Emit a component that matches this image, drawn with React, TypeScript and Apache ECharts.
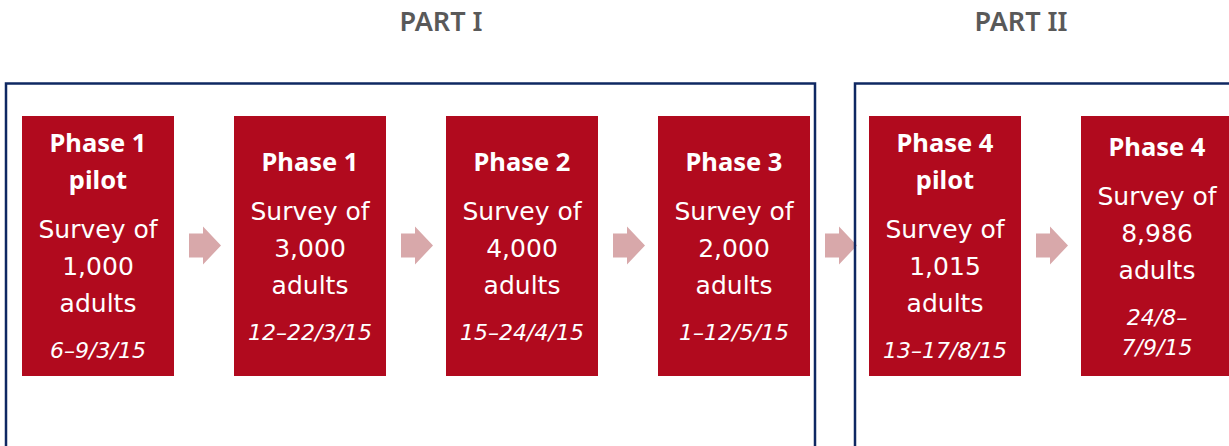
import React, { useEffect, useRef } from "react";
import * as echarts from "echarts";

const partTitles = ["PART I", "PART II"];
const phaseTitles = ["Phase 1\npilot", "Phase 1", "Phase 2", "Phase 3", "Phase 4\npilot", "Phase 4"];
const sampleSizes = ["1,000", "3,000", "4,000", "2,000", "1,015", "8,986"];
const fieldDates = ["6–9/3/15", "12–22/3/15", "15–24/4/15", "1–12/5/15", "13–17/8/15", "24/8–\n7/9/15"];

const RED = "#B10A1E";
const PINK = "#D8A8AA";
const NAVY = "#0F2862";
const GREY = "#595959";

const boxX = [22, 234, 446, 658, 869, 1081];
const BOX_W = 152;
const BOX_TOP = 116;
const BOX_H = 260;
const MID_Y = 245.5;

export default function App() {
  const ref = useRef<HTMLDivElement>(null);
  useEffect(() => {
    if (!ref.current) return;
    const chart = echarts.init(ref.current, undefined, { renderer: "svg" });
    const elements: any[] = [];

    // arrows (behind frames)
    const arrow = (x0: number) => ({
      type: "polygon",
      shape: {
        points: [
          [x0, MID_Y - 12],
          [x0 + 14, MID_Y - 12],
          [x0 + 14, MID_Y - 19],
          [x0 + 32, MID_Y],
          [x0 + 14, MID_Y + 19],
          [x0 + 14, MID_Y + 12],
          [x0, MID_Y + 12],
        ],
      },
      style: { fill: PINK },
      z: 1,
    });
    for (let i = 0; i < phaseTitles.length - 1; i++) {
      elements.push(arrow(boxX[i] + BOX_W + 15));
    }

    // frames
    elements.push({
      type: "rect",
      shape: { x: 6, y: 83.5, width: 809, height: 450 },
      style: { fill: "none", stroke: NAVY, lineWidth: 2.5 },
      z: 2,
    });
    elements.push({
      type: "rect",
      shape: { x: 855, y: 83.5, width: 450, height: 450 },
      style: { fill: "none", stroke: NAVY, lineWidth: 2.5 },
      z: 2,
    });

    // part titles
    const partCenters = [441, 1021];
    partTitles.forEach((t, i) => {
      elements.push({
        type: "text",
        x: partCenters[i],
        y: 20,
        style: {
          text: t,
          fill: GREY,
          font: '600 27px "Noto Sans"',
          align: "center",
          verticalAlign: "middle",
        },
        z: 3,
      });
    });

    // boxes
    phaseTitles.forEach((title, i) => {
      const x = boxX[i];
      elements.push({
        type: "rect",
        shape: { x, y: BOX_TOP, width: BOX_W, height: BOX_H },
        style: { fill: RED },
        z: 3,
      });
      const lines: { text: string; kind: string; gap: number }[] = [];
      title.split("\n").forEach((t, k) => lines.push({ text: t, kind: "title", gap: k === 0 ? 0 : 37 }));
      lines.push({ text: "Survey of", kind: "body", gap: 50.5 });
      lines.push({ text: sampleSizes[i], kind: "body", gap: 37 });
      lines.push({ text: "adults", kind: "body", gap: 37 });
      fieldDates[i].split("\n").forEach((t, k) => lines.push({ text: t, kind: "date", gap: k === 0 ? 47 : 30 }));
      let c = 0;
      const centers = lines.map((l) => (c += l.gap));
      const top = centers[0] - 9.5;
      const bottom = centers[centers.length - 1] + 8;
      const shift = MID_Y - (top + bottom) / 2;
      lines.forEach((l, k) => {
        const font =
          l.kind === "title"
            ? 'bold 25.5px "Noto Sans"'
            : l.kind === "body"
            ? '25px "DejaVu Sans"'
            : 'italic 22px "DejaVu Sans"';
        elements.push({
          type: "text",
          x: x + BOX_W / 2,
          y: centers[k] + shift,
          style: { text: l.text, fill: "#FFFFFF", font, align: "center", verticalAlign: "middle" },
          z: 4,
        });
      });
    });

    chart.setOption({ animation: false, graphic: { elements } });
    return () => chart.dispose();
  }, []);
  return (
    <div
      ref={ref}
      style={{ position: "absolute", left: 0, top: 0, width: 1229, height: 446, background: "#FFFFFF" }}
    />
  );
}
